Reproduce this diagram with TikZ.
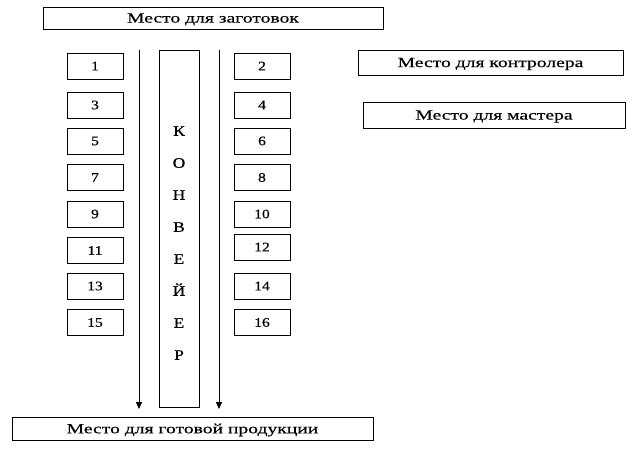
\documentclass[tikz,border=0pt]{standalone}
\usepackage{fontspec}
\setmainfont{Liberation Serif}
\newfontfamily\wideserif[FakeStretch=1.4, FakeBold=0.5]{Liberation Serif}
\newfontfamily\numserif[FakeStretch=1.2, FakeBold=0.5]{Liberation Serif}
\usetikzlibrary{arrows.meta}

\tikzset{
	place/.style={draw, line width=0.9pt, inner sep=0pt, text depth=0pt, font=\wideserif\fontsize{14}{16}\selectfont},
	post/.style={draw, line width=0.9pt, minimum width=56, minimum height=26, inner sep=0pt, font=\numserif\fontsize{13}{14}\selectfont},
	flow/.style={line width=0.9pt, -{Triangle[length=7pt, width=6pt]}}
}

\begin{document}
\begin{tikzpicture}[x=1pt, y=-1pt]
			%%%%% START %%%%%
			\useasboundingbox (0, 0) rectangle (635, 448);
			
			\node[place, minimum width=340, minimum height=22] (zag) at (213, 18) {Место для заготовок};
			\node[place, minimum width=265, minimum height=25] (kontr) at (490.5, 62.5) {Место для контролера};
			\node[place, minimum width=262, minimum height=26] (master) at (494, 115) {Место для мастера};
			\node[place, minimum width=361, minimum height=23] (gotov) at (192.5, 428.5) {Место для готовой продукции};
			
			\node[draw, line width=0.9pt, minimum width=40, minimum height=357, inner sep=0pt] (konv) at (179, 228.5) {};
			\node[font=\numserif\fontsize{14.5}{16}\selectfont, align=center, text width=20] (word) at (179, 243) {К\\[16pt]О\\[16pt]Н\\[16pt]В\\[16pt]Е\\[16pt]Й\\[16pt]Е\\[16pt]Р};
			
			\node[post] (p1) at (95, 66) {1};
			\node[post] (p3) at (95, 105) {3};
			\node[post] (p5) at (95, 141) {5};
			\node[post] (p7) at (95, 177.5) {7};
			\node[post] (p9) at (95, 214) {9};
			\node[post] (p11) at (95, 250.5) {11};
			\node[post] (p13) at (95, 286) {13};
			\node[post] (p15) at (95, 322.5) {15};
			
			\node[post] (p2) at (262, 66) {2};
			\node[post] (p4) at (262, 105) {4};
			\node[post] (p6) at (262, 141) {6};
			\node[post] (p8) at (262, 177.5) {8};
			\node[post] (p10) at (262, 214) {10};
			\node[post] (p12) at (262, 247) {12};
			\node[post] (p14) at (262, 286) {14};
			\node[post] (p16) at (262, 322.5) {16};
			
			\coordinate (la) at (139, 50);
			\coordinate (lb) at (139, 409);
			\coordinate (ra) at (219, 50);
			\coordinate (rb) at (219, 409);
			\draw[flow] (la) -- (lb);
			\draw[flow] (ra) -- (rb);
			%%%%% END %%%%%
\end{tikzpicture}
\end{document}
